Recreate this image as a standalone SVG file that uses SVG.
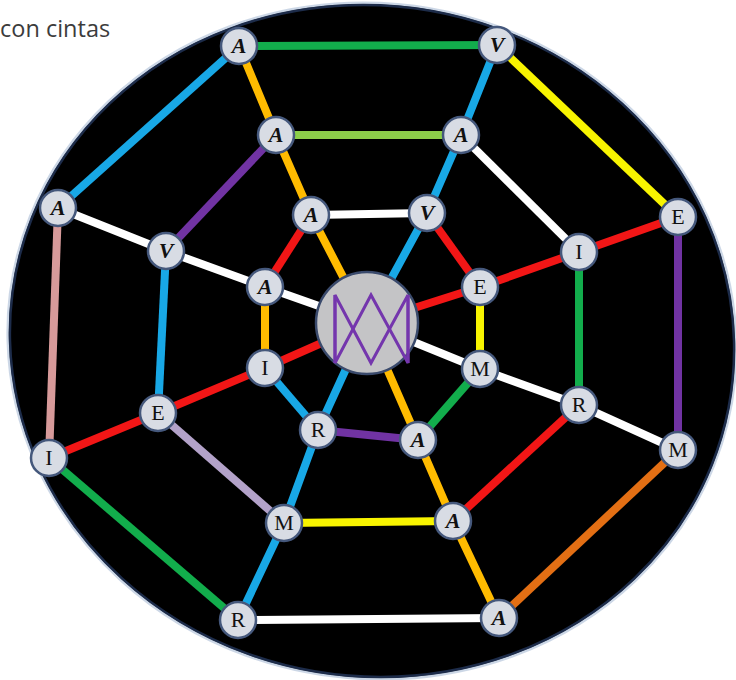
<svg xmlns="http://www.w3.org/2000/svg" width="736" height="680" viewBox="0 0 736 680">
<style>
.c{stroke-width:8;fill:none;stroke-linecap:butt}
.blue{stroke:#18a8e6}.gold{stroke:#ffbb00}.green{stroke:#12ad4c}.lgreen{stroke:#8dcf4a}
.yellow{stroke:#f8f400}.purple{stroke:#7133a3}.red{stroke:#f21616}.white{stroke:#ffffff}
.pink{stroke:#d79a9a}.lav{stroke:#b3a2c9}.orange{stroke:#e36f14}
.node circle{fill:#d8dce4;stroke:#45587c;stroke-width:2.5}
.node text{font-family:"Liberation Serif","DejaVu Serif",serif;font-size:22px;fill:#111;text-anchor:middle}
.it{font-style:italic;font-weight:bold}
</style>
<rect width="736" height="680" fill="#ffffff"/>
<text x="0" y="37" font-family="'Open Sans','Liberation Sans',sans-serif" font-size="23.5" fill="#3c3c3c">con cintas</text>
<g transform="translate(372,341) skewX(1.5)">
<ellipse cx="0" cy="0" rx="363" ry="337" fill="#000000" stroke="#8fa6c8" stroke-width="5" stroke-opacity="0.45"/>
<ellipse cx="0" cy="0" rx="362" ry="336" fill="#000000" stroke="#1d2c4a" stroke-width="2.5"/>
</g>
<g id="connectors">
<line class="c green" x1="239" y1="46" x2="497" y2="45"/>
<line class="c yellow" x1="497" y1="45" x2="678" y2="217"/>
<line class="c purple" x1="678" y1="217" x2="678" y2="450"/>
<line class="c orange" x1="678" y1="450" x2="499" y2="618"/>
<line class="c white" x1="499" y1="618" x2="238" y2="620"/>
<line class="c green" x1="238" y1="620" x2="49" y2="458"/>
<line class="c pink" x1="49" y1="458" x2="58" y2="208"/>
<line class="c blue" x1="58" y1="208" x2="239" y2="46"/>
<line class="c lgreen" x1="276" y1="135" x2="461" y2="135"/>
<line class="c white" x1="461" y1="135" x2="579" y2="252"/>
<line class="c green" x1="579" y1="252" x2="579" y2="405"/>
<line class="c red" x1="579" y1="405" x2="453" y2="521"/>
<line class="c yellow" x1="453" y1="521" x2="284" y2="523"/>
<line class="c lav" x1="284" y1="523" x2="158" y2="413"/>
<line class="c blue" x1="158" y1="413" x2="166" y2="251"/>
<line class="c purple" x1="166" y1="251" x2="276" y2="135"/>
<line class="c white" x1="311" y1="215" x2="427" y2="213"/>
<line class="c red" x1="427" y1="213" x2="480" y2="287"/>
<line class="c yellow" x1="480" y1="287" x2="480" y2="369"/>
<line class="c green" x1="480" y1="369" x2="418" y2="440"/>
<line class="c purple" x1="418" y1="440" x2="318" y2="430"/>
<line class="c blue" x1="318" y1="430" x2="265" y2="368"/>
<line class="c gold" x1="265" y1="368" x2="265" y2="287"/>
<line class="c red" x1="265" y1="287" x2="311" y2="215"/>
<polyline class="c gold" points="239,46 276,135 311,215 367,323"/>
<polyline class="c blue" points="497,45 461,135 427,213 367,323"/>
<polyline class="c red" points="678,217 579,252 480,287 367,323"/>
<polyline class="c white" points="678,450 579,405 480,369 367,323"/>
<polyline class="c gold" points="499,618 453,521 418,440 367,323"/>
<polyline class="c blue" points="238,620 284,523 318,430 367,323"/>
<polyline class="c red" points="49,458 158,413 265,368 367,323"/>
<polyline class="c white" points="58,208 166,251 265,287 367,323"/>
</g>
<g id="center">
<circle cx="367" cy="323" r="51" fill="#c4c4c6" stroke="#3a4a6c" stroke-width="2.5"/>
<g fill="none" stroke="#7436ad" stroke-width="3" stroke-linejoin="miter">
<polyline points="335,363 335,295 371,363 408,295 408,363"/>
<polyline points="335,295 335,363 371,295 408,363 408,295"/>
</g>
</g>
<g id="n-o1" class="node"><circle cx="239" cy="46" r="18"/><text class="it" x="239" y="53">A</text></g>
<g id="n-o2" class="node"><circle cx="497" cy="45" r="18"/><text class="it" x="497" y="52">V</text></g>
<g id="n-o3" class="node"><circle cx="678" cy="217" r="18"/><text x="678" y="224">E</text></g>
<g id="n-o4" class="node"><circle cx="678" cy="450" r="18"/><text x="678" y="457">M</text></g>
<g id="n-o5" class="node"><circle cx="499" cy="618" r="18"/><text class="it" x="499" y="625">A</text></g>
<g id="n-o6" class="node"><circle cx="238" cy="620" r="18"/><text x="238" y="627">R</text></g>
<g id="n-o7" class="node"><circle cx="49" cy="458" r="18"/><text x="49" y="465">I</text></g>
<g id="n-o8" class="node"><circle cx="58" cy="208" r="18"/><text class="it" x="58" y="215">A</text></g>
<g id="n-m1" class="node"><circle cx="276" cy="135" r="18"/><text class="it" x="276" y="142">A</text></g>
<g id="n-m2" class="node"><circle cx="461" cy="135" r="18"/><text class="it" x="461" y="142">A</text></g>
<g id="n-m3" class="node"><circle cx="579" cy="252" r="18"/><text x="579" y="259">I</text></g>
<g id="n-m4" class="node"><circle cx="579" cy="405" r="18"/><text x="579" y="412">R</text></g>
<g id="n-m5" class="node"><circle cx="453" cy="521" r="18"/><text class="it" x="453" y="528">A</text></g>
<g id="n-m6" class="node"><circle cx="284" cy="523" r="18"/><text x="284" y="530">M</text></g>
<g id="n-m7" class="node"><circle cx="158" cy="413" r="18"/><text x="158" y="420">E</text></g>
<g id="n-m8" class="node"><circle cx="166" cy="251" r="18"/><text class="it" x="166" y="258">V</text></g>
<g id="n-i1" class="node"><circle cx="311" cy="215" r="18"/><text class="it" x="311" y="222">A</text></g>
<g id="n-i2" class="node"><circle cx="427" cy="213" r="18"/><text class="it" x="427" y="220">V</text></g>
<g id="n-i3" class="node"><circle cx="480" cy="287" r="18"/><text x="480" y="294">E</text></g>
<g id="n-i4" class="node"><circle cx="480" cy="369" r="18"/><text x="480" y="376">M</text></g>
<g id="n-i5" class="node"><circle cx="418" cy="440" r="18"/><text class="it" x="418" y="447">A</text></g>
<g id="n-i6" class="node"><circle cx="318" cy="430" r="18"/><text x="318" y="437">R</text></g>
<g id="n-i7" class="node"><circle cx="265" cy="368" r="18"/><text x="265" y="375">I</text></g>
<g id="n-i8" class="node"><circle cx="265" cy="287" r="18"/><text class="it" x="265" y="294">A</text></g>
</svg>
